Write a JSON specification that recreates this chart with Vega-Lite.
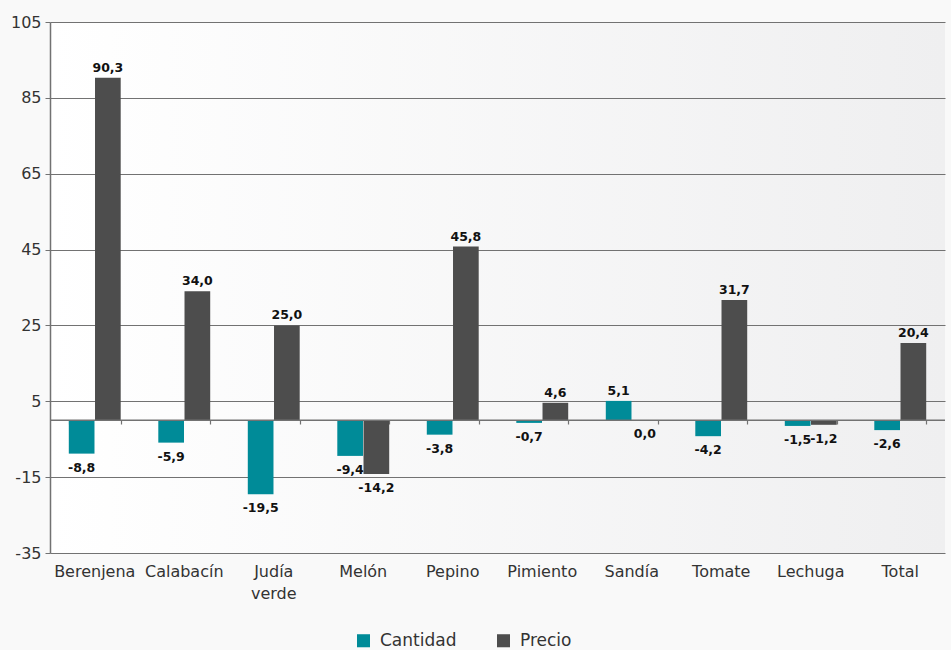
{
  "$schema": "https://vega.github.io/schema/vega-lite/v6.json",
  "width": 895,
  "height": 531,
  "autosize": "none",
  "padding": {"left": 50, "top": 22, "right": 6, "bottom": 97},
  "background": "#f9f9f9",
  "config": {
    "font": "DejaVu Sans",
    "locale": {"number": {"decimal": ",", "thousands": ".", "grouping": [3], "currency": ["", " €"], "minus": "-"}},
    "view": {"stroke": null, "fill": {"gradient": "linear", "x1": 0, "y1": 0, "x2": 1, "y2": 0, "stops": [{"offset": 0, "color": "#ffffff"}, {"offset": 1, "color": "#efeff0"}]}}
  },
  "data": {
    "values": [
      {"producto": "Berenjena", "serie": "Cantidad", "valor": -8.8},
      {"producto": "Berenjena", "serie": "Precio", "valor": 90.3},
      {"producto": "Calabacín", "serie": "Cantidad", "valor": -5.9},
      {"producto": "Calabacín", "serie": "Precio", "valor": 34.0},
      {"producto": "Judía verde", "serie": "Cantidad", "valor": -19.5},
      {"producto": "Judía verde", "serie": "Precio", "valor": 25.0},
      {"producto": "Melón", "serie": "Cantidad", "valor": -9.4},
      {"producto": "Melón", "serie": "Precio", "valor": -14.2},
      {"producto": "Pepino", "serie": "Cantidad", "valor": -3.8},
      {"producto": "Pepino", "serie": "Precio", "valor": 45.8},
      {"producto": "Pimiento", "serie": "Cantidad", "valor": -0.7},
      {"producto": "Pimiento", "serie": "Precio", "valor": 4.6},
      {"producto": "Sandía", "serie": "Cantidad", "valor": 5.1},
      {"producto": "Sandía", "serie": "Precio", "valor": 0.0},
      {"producto": "Tomate", "serie": "Cantidad", "valor": -4.2},
      {"producto": "Tomate", "serie": "Precio", "valor": 31.7},
      {"producto": "Lechuga", "serie": "Cantidad", "valor": -1.5},
      {"producto": "Lechuga", "serie": "Precio", "valor": -1.2},
      {"producto": "Total", "serie": "Cantidad", "valor": -2.6},
      {"producto": "Total", "serie": "Precio", "valor": 20.4}
    ]
  },
  "resolve": {"axis": {"x": "independent"}},
  "layer": [
    {
      "mark": {"type": "bar"},
      "encoding": {
        "x": {
          "field": "producto", "type": "nominal", "sort": null, "title": null,
          "scale": {"paddingInner": 0.42, "paddingOuter": 0.21},
          "axis": {
            "orient": "bottom",
            "labelAngle": 0, "labelFontSize": 16, "labelColor": "#333333", "labelPadding": 10,
            "ticks": false, "domain": false,
            "labelExpr": "datum.value == 'Judía verde' ? ['Judía', 'verde'] : datum.value",
            "labelLineHeight": 22
          }
        },
        "xOffset": {"field": "serie", "type": "nominal", "scale": {"paddingInner": 0.02}},
        "y": {
          "field": "valor", "type": "quantitative", "title": null,
          "scale": {"domain": [-35, 105], "nice": false, "zero": false},
          "axis": {
            "values": [-35, -15, 5, 25, 45, 65, 85, 105],
            "labelFontSize": 16, "labelColor": "#333333", "labelPadding": 4,
            "grid": true, "gridColor": "#727272", "gridWidth": 1.2,
            "domainColor": "#727272", "domainWidth": 1.5,
            "tickColor": "#727272", "tickSize": 5
          }
        },
        "color": {
          "field": "serie", "type": "nominal", "title": null,
          "scale": {"domain": ["Cantidad", "Precio"], "range": ["#008b98", "#4d4d4d"]},
          "legend": {
            "orient": "none", "direction": "horizontal", "legendX": 305, "legendY": 610,
            "symbolType": "square", "symbolSize": 170, "symbolStrokeWidth": 0,
            "labelFontSize": 17, "labelColor": "#333333", "columnPadding": 38, "labelOffset": 8
          }
        }
      }
    },
    {
      "mark": {"type": "bar", "opacity": 0},
      "encoding": {
        "x": {
          "field": "producto", "type": "nominal", "sort": null, "title": null,
          "axis": {
            "orient": "bottom", "offset": -133, "labels": false, "domain": false,
            "ticks": true, "tickBand": "extent", "tickSize": 4, "tickColor": "#727272", "tickWidth": 1.2
          }
        },
        "y": {"field": "valor", "type": "quantitative"}
      }
    },
    {
      "mark": {"type": "rule", "color": "#727272", "strokeWidth": 1.5},
      "data": {"values": [{"cero": 0}]},
      "encoding": {"y": {"field": "cero", "type": "quantitative"}}
    },
    {
      "transform": [{"filter": "datum.valor > 0"}],
      "mark": {"type": "text", "baseline": "bottom", "dy": -3, "fontSize": 12.5, "fontWeight": "bold", "color": "#111111"},
      "encoding": {
        "x": {"field": "producto", "type": "nominal", "sort": null, "axis": null},
        "xOffset": {"field": "serie", "type": "nominal"},
        "y": {"field": "valor", "type": "quantitative"},
        "text": {"field": "valor", "type": "quantitative", "format": ".1f"}
      }
    },
    {
      "transform": [{"filter": "datum.valor <= 0"}],
      "mark": {"type": "text", "baseline": "top", "dy": 8, "fontSize": 12.5, "fontWeight": "bold", "color": "#111111"},
      "encoding": {
        "x": {"field": "producto", "type": "nominal", "sort": null, "axis": null},
        "xOffset": {"field": "serie", "type": "nominal"},
        "y": {"field": "valor", "type": "quantitative"},
        "text": {"field": "valor", "type": "quantitative", "format": ".1f"}
      }
    }
  ]
}
